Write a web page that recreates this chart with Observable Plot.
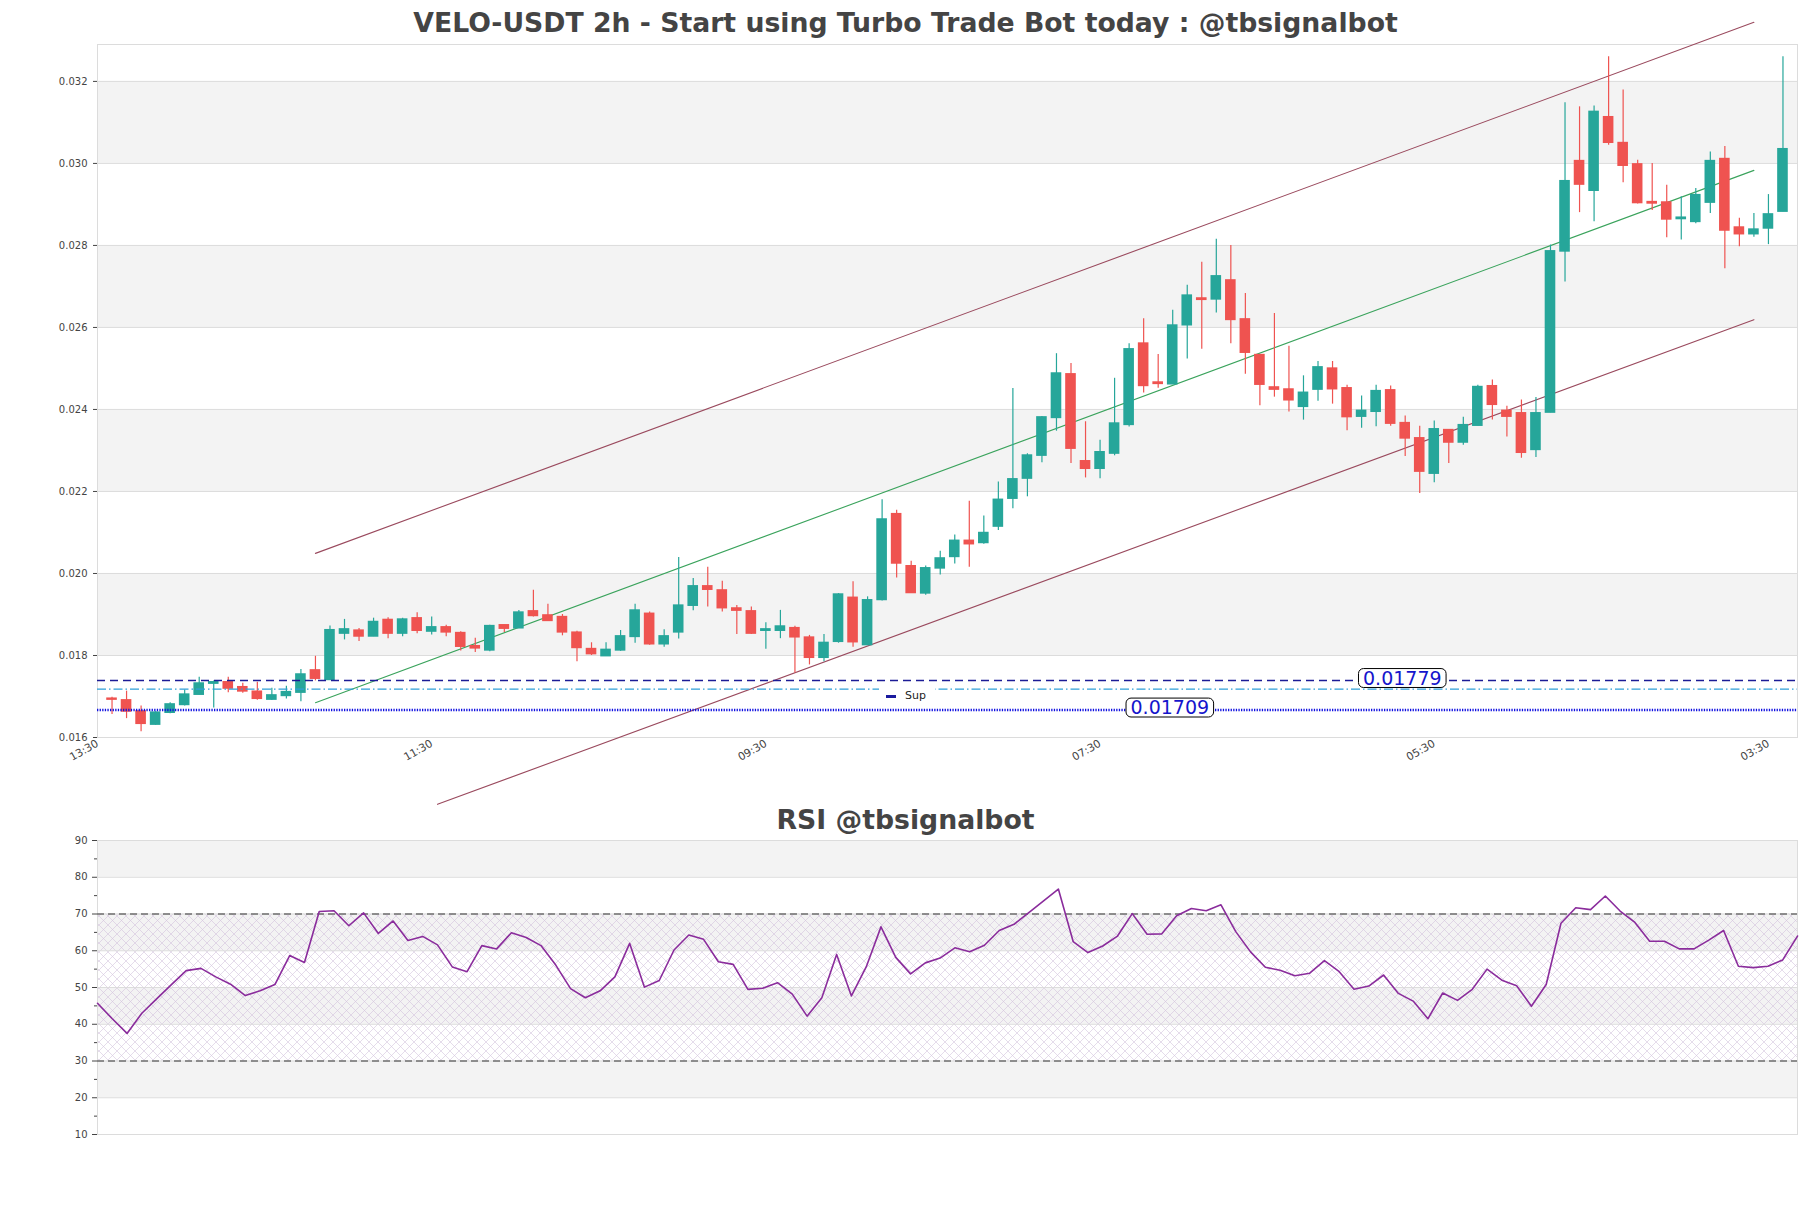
<!DOCTYPE html>
<html>
<head>
<meta charset="utf-8">
<script src="https://cdn.jsdelivr.net/npm/d3@7"></script>
<script src="https://cdn.jsdelivr.net/npm/@observablehq/plot@0.6"></script>
<style>
  html, body { margin: 0; padding: 0; background: #fff; }
  #wrap { position: relative; width: 1811px; height: 1208px; overflow: hidden; background: #fff; font-family: "DejaVu Sans", sans-serif; }
  .title { position: absolute; left: 0; width: 1811px; text-align: center; font-weight: bold; font-size: 26.7px; line-height: 30px; color: #444; }
  #main, #rsi { position: absolute; left: 0; }
  #main { top: 0; }
  #rsi { top: 835px; }
  #legend { position: absolute; left: 879px; top: 686px; width: 56px; height: 20px; background: #fff; }
  #legend .mk { position: absolute; left: 7px; top: 9px; width: 10px; height: 3px; background: #1a1a9e; }
  #legend .lb { position: absolute; left: 26px; top: 3px; font-size: 11px; line-height: 13px; color: #222; }
</style>
</head>
<body>
<svg width="0" height="0" style="position:absolute">
  <defs>
    <pattern id="hatch" patternUnits="userSpaceOnUse" width="9" height="9">
      <path d="M0,0L9,9M9,0L0,9" stroke="#cdbad8" stroke-width="0.6" fill="none"/>
    </pattern>
  </defs>
</svg>
<div id="wrap">
  <div class="title" style="top:8px">VELO-USDT 2h - Start using Turbo Trade Bot today : @tbsignalbot</div>
  <div id="main"></div>
  <div id="legend"><div class="mk"></div><div class="lb">Sup</div></div>
  <div class="title" style="top:805px">RSI @tbsignalbot</div>
  <div id="rsi"></div>
</div>
<script>
// ---------------- data ----------------
const opens = [0.01695,0.01691,0.01664,0.01631,0.01660,0.01679,0.01704,0.01731,0.01735,0.01723,
0.01712,0.01692,0.01701,0.01709,0.01764,0.01740,0.01853,0.01861,0.01846,0.01887,
0.01853,0.01891,0.01858,0.01869,0.01855,0.01823,0.01812,0.01874,0.01866,0.01908,
0.01898,0.01894,0.01856,0.01816,0.01798,0.01812,0.01845,0.01902,0.01827,0.01856,
0.01921,0.01969,0.01959,0.01915,0.01908,0.01860,0.01860,0.01867,0.01844,0.01794,
0.01833,0.01941,0.01825,0.01935,0.02145,0.02018,0.01951,0.02012,0.02040,0.02080,
0.02074,0.02114,0.02182,0.02231,0.02287,0.02379,0.02486,0.02274,0.02255,0.02292,
0.02362,0.02561,0.02466,0.02461,0.02605,0.02671,0.02668,0.02715,0.02620,0.02533,
0.02454,0.02449,0.02406,0.02448,0.02500,0.02452,0.02382,0.02394,0.02447,0.02367,
0.02330,0.02243,0.02350,0.02319,0.02360,0.02457,0.02397,0.02391,0.02301,0.02392,
0.02785,0.03006,0.02933,0.03113,0.03050,0.02998,0.02906,0.02905,0.02864,0.02857,
0.02904,0.03011,0.02844,0.02827,0.02841,0.02882];
const highs = [0.01698,0.01713,0.01677,0.01663,0.01685,0.01716,0.01747,0.01738,0.01747,0.01732,
0.01735,0.01720,0.01725,0.01766,0.01798,0.01872,0.01888,0.01866,0.01891,0.01892,
0.01891,0.01904,0.01894,0.01874,0.01858,0.01842,0.01874,0.01874,0.01910,0.01959,
0.01925,0.01900,0.01859,0.01831,0.01831,0.01861,0.01925,0.01906,0.01863,0.02039,
0.01988,0.02015,0.01981,0.01922,0.01918,0.01880,0.01910,0.01871,0.01849,0.01851,
0.01951,0.01980,0.01943,0.02180,0.02154,0.02030,0.02018,0.02054,0.02094,0.02176,
0.02140,0.02223,0.02451,0.02292,0.02383,0.02536,0.02512,0.02370,0.02325,0.02476,
0.02560,0.02621,0.02534,0.02642,0.02703,0.02759,0.02815,0.02800,0.02683,0.02533,
0.02634,0.02554,0.02482,0.02517,0.02517,0.02459,0.02433,0.02459,0.02457,0.02384,
0.02359,0.02372,0.02350,0.02381,0.02459,0.02472,0.02408,0.02423,0.02429,0.02801,
0.03148,0.03138,0.03140,0.03260,0.03179,0.03008,0.03000,0.02947,0.02919,0.02939,
0.03028,0.03041,0.02866,0.02878,0.02924,0.03260];
const lows = [0.01656,0.01646,0.01614,0.01630,0.01658,0.01677,0.01704,0.01672,0.01709,0.01708,
0.01691,0.01690,0.01694,0.01687,0.01738,0.01740,0.01838,0.01834,0.01846,0.01841,
0.01846,0.01853,0.01850,0.01846,0.01811,0.01807,0.01809,0.01856,0.01866,0.01894,
0.01884,0.01848,0.01785,0.01800,0.01798,0.01810,0.01830,0.01825,0.01820,0.01840,
0.01909,0.01918,0.01906,0.01851,0.01851,0.01815,0.01841,0.01757,0.01777,0.01785,
0.01830,0.01820,0.01825,0.01933,0.01989,0.01951,0.01947,0.01996,0.02023,0.02015,
0.02071,0.02105,0.02158,0.02187,0.02270,0.02347,0.02268,0.02233,0.02231,0.02287,
0.02357,0.02440,0.02452,0.02461,0.02523,0.02547,0.02635,0.02560,0.02486,0.02409,
0.02430,0.02394,0.02374,0.02420,0.02413,0.02348,0.02354,0.02358,0.02359,0.02285,
0.02195,0.02221,0.02268,0.02313,0.02360,0.02374,0.02333,0.02281,0.02283,0.02392,
0.02711,0.02880,0.02858,0.03044,0.02953,0.02901,0.02885,0.02819,0.02813,0.02853,
0.02878,0.02743,0.02797,0.02820,0.02802,0.02882];
const closes = [0.01692,0.01663,0.01633,0.01661,0.01681,0.01705,0.01732,0.01735,0.01719,0.01712,
0.01694,0.01703,0.01711,0.01754,0.01743,0.01862,0.01864,0.01846,0.01882,0.01853,
0.01888,0.01860,0.01869,0.01856,0.01821,0.01817,0.01872,0.01865,0.01905,0.01896,
0.01884,0.01856,0.01818,0.01803,0.01814,0.01847,0.01910,0.01827,0.01847,0.01922,
0.01969,0.01960,0.01915,0.01909,0.01853,0.01864,0.01871,0.01844,0.01794,0.01831,
0.01949,0.01832,0.01935,0.02132,0.02024,0.01952,0.02013,0.02037,0.02080,0.02071,
0.02099,0.02180,0.02230,0.02288,0.02381,0.02488,0.02304,0.02255,0.02296,0.02366,
0.02547,0.02457,0.02462,0.02605,0.02678,0.02667,0.02725,0.02618,0.02538,0.02460,
0.02448,0.02422,0.02441,0.02503,0.02449,0.02381,0.02397,0.02445,0.02365,0.02329,
0.02248,0.02352,0.02319,0.02362,0.02455,0.02411,0.02382,0.02294,0.02391,0.02786,
0.02957,0.02948,0.03126,0.03050,0.02994,0.02903,0.02902,0.02863,0.02868,0.02923,
0.03006,0.02836,0.02827,0.02839,0.02876,0.03035];

const rsiValues = [45.7,41.5,37.5,43.0,46.9,50.8,54.6,55.2,52.9,50.9,
47.8,49.1,50.8,58.7,56.8,70.7,70.9,66.8,70.3,64.7,
68.1,62.8,63.9,61.6,55.6,54.3,61.4,60.5,64.9,63.6,
61.4,56.1,49.7,47.2,49.1,52.9,62.0,50.1,51.9,60.2,
64.3,63.1,57.0,56.3,49.5,49.8,51.3,48.2,42.2,47.2,
59.0,47.7,55.6,66.5,58.2,53.7,56.7,58.0,60.8,59.7,
61.5,65.5,67.2,70.4,73.6,76.8,62.5,59.5,61.3,64.0,
70.1,64.5,64.6,69.5,71.5,70.9,72.5,65.2,59.7,55.5,
54.7,53.2,53.9,57.3,54.3,49.5,50.4,53.4,48.4,46.3,
41.5,48.5,46.5,49.5,55.0,52.0,50.5,44.9,50.8,67.5,
71.7,71.2,74.9,70.8,67.7,62.6,62.6,60.5,60.5,62.9,
65.5,55.8,55.4,55.8,57.5,64.0];

// x tick positions (candle index) and their labels
const tickIdx = [-1, 22, 45, 68, 91, 114];
const tickLabels = ["13:30", "11:30", "09:30", "07:30", "05:30", "03:30"];
const priceTicks = [0.016, 0.018, 0.020, 0.022, 0.024, 0.026, 0.028, 0.030, 0.032];
const priceBands = [[0.018, 0.020], [0.022, 0.024], [0.026, 0.028], [0.030, 0.032]];

// trend channel end points [candle index, price]
const channelUpper = [[14, 0.02049], [113, 0.03344]];
const channelMiddle = [[14, 0.01685], [113, 0.02983]];
const channelLower = [[22.4, 0.01437], [113, 0.02619]];

// horizontal levels
const resistanceLevel = 0.01739;   // dark blue dashed
const midLevel = 0.01718;          // light blue dash-dot
const supportLevel = 0.01667;      // blue dotted
const levelTags = ["0.01779", "0.01709"];
const levelTagIdx = [88.8, 72.8];
const levelTagY = [resistanceLevel, supportLevel];

const rsiTicks = [10, 20, 30, 40, 50, 60, 70, 80, 90];
const rsiMinorTicks = [15, 25, 35, 45, 55, 65, 75, 85];
const rsiBands = [[20, 30], [40, 50], [60, 70], [80, 90]];
const rsiZone = [[30, 70]];
const rsiLimits = [30, 70];

// ---------------- build ----------------
const candles = opens.map((o, i) => ({i, o, h: highs[i], l: lows[i], c: closes[i]}));
const ups = candles.filter(d => d.c >= d.o);
const downs = candles.filter(d => d.c < d.o);
const UP = "#26a69a", DOWN = "#ef5350";
const half = 0.365;
const tags = levelTags.map((t, k) => ({t, x: levelTagIdx[k], y: levelTagY[k]}));

const main = Plot.plot({
  width: 1811, height: 815,
  marginLeft: 97, marginRight: 14, marginTop: 44, marginBottom: 78,
  style: {fontFamily: "DejaVu Sans", fontSize: "10px", color: "#444", background: "transparent", overflow: "visible"},
  x: {domain: [-1, 116], label: null},
  y: {domain: [0.016, 0.0329], ticks: priceTicks, tickFormat: d3.format(".3f"), tickSize: 4, tickPadding: 6, label: null},
  marks: [
    Plot.rect(priceBands, {y1: d => d[0], y2: d => d[1], fill: "#f3f3f3"}),
    Plot.ruleY(priceTicks, {stroke: "#dcdcdc", strokeWidth: 1}),
    Plot.frame({stroke: "#dcdcdc"}),
    Plot.axisX(tickIdx, {tickFormat: d => tickLabels[tickIdx.indexOf(d)], tickRotate: -30, tickSize: 0, tickPadding: 5, fontSize: 10.8, label: null}),
    Plot.line(channelUpper, {x: d => d[0], y: d => d[1], stroke: "#9a4a5e", strokeWidth: 1.1}),
    Plot.line(channelMiddle, {x: d => d[0], y: d => d[1], stroke: "#3aa35c", strokeWidth: 1.1}),
    Plot.line(channelLower, {x: d => d[0], y: d => d[1], stroke: "#9a4a5e", strokeWidth: 1.1}),
    Plot.ruleX(ups, {x: "i", y1: "l", y2: "h", stroke: UP, strokeWidth: 1.2}),
    Plot.ruleX(downs, {x: "i", y1: "l", y2: "h", stroke: DOWN, strokeWidth: 1.2}),
    Plot.rect(ups, {x1: d => d.i - half, x2: d => d.i + half, y1: "o", y2: "c", fill: UP, insetTop: -0.6, insetBottom: -0.6}),
    Plot.rect(downs, {x1: d => d.i - half, x2: d => d.i + half, y1: "c", y2: "o", fill: DOWN, insetTop: -0.6, insetBottom: -0.6}),
    Plot.ruleY([resistanceLevel], {stroke: "#1c1c96", strokeWidth: 1.3, strokeDasharray: "8,5"}),
    Plot.ruleY([midLevel], {stroke: "#2e9fd8", strokeWidth: 1.3, strokeDasharray: "9,3,1.5,3"}),
    Plot.ruleY([supportLevel], {stroke: "#1010e0", strokeWidth: 2.6, strokeDasharray: "1.3,1.3"}),
    Plot.text(tags, {x: "x", y: "y", text: "t", fill: "#1515cc", fontSize: 19, dy: -2})
  ]
});
document.getElementById("main").appendChild(main);

// rounded boxes behind level tags
main.querySelectorAll("text").forEach(t => {
  if (!levelTags.includes(t.textContent.trim())) return;
  const b = t.getBBox();
  const r = document.createElementNS("http://www.w3.org/2000/svg", "rect");
  r.setAttribute("x", b.x - 4.5);
  r.setAttribute("y", b.y + b.height * 0.09);
  r.setAttribute("width", b.width + 9);
  r.setAttribute("height", b.height * 0.86);
  r.setAttribute("rx", 5);
  r.setAttribute("fill", "#fff");
  r.setAttribute("stroke", "#000");
  r.setAttribute("stroke-width", 1);
  const tr = t.getAttribute("transform");
  if (tr) r.setAttribute("transform", tr);
  t.parentNode.insertBefore(r, t);
});

const rsiPlot = Plot.plot({
  width: 1811, height: 310,
  marginLeft: 97, marginRight: 14, marginTop: 5, marginBottom: 11,
  style: {fontFamily: "DejaVu Sans", fontSize: "10px", color: "#444", background: "transparent", overflow: "visible"},
  x: {domain: [0, rsiValues.length - 1], axis: null},
  y: {domain: [10, 90], label: null},
  marks: [
    Plot.rect(rsiBands, {y1: d => d[0], y2: d => d[1], fill: "#f3f3f3"}),
    Plot.rect(rsiZone, {y1: d => d[0], y2: d => d[1], fill: "url(#hatch)", fillOpacity: 0.85}),
    Plot.ruleY(rsiTicks, {stroke: "#dcdcdc", strokeWidth: 1}),
    Plot.frame({stroke: "#dcdcdc"}),
    Plot.axisY(rsiTicks, {tickSize: 5, tickPadding: 5, label: null}),
    Plot.axisY(rsiMinorTicks, {tickSize: 3, tickFormat: () => "", label: null}),
    Plot.ruleY(rsiLimits, {stroke: "#333", strokeWidth: 1.2, strokeDasharray: "7,4"}),
    Plot.line(rsiValues, {x: (d, i) => i, y: d => d, stroke: "#8a2c9c", strokeWidth: 1.6})
  ]
});
document.getElementById("rsi").appendChild(rsiPlot);
</script>
</body>
</html>
